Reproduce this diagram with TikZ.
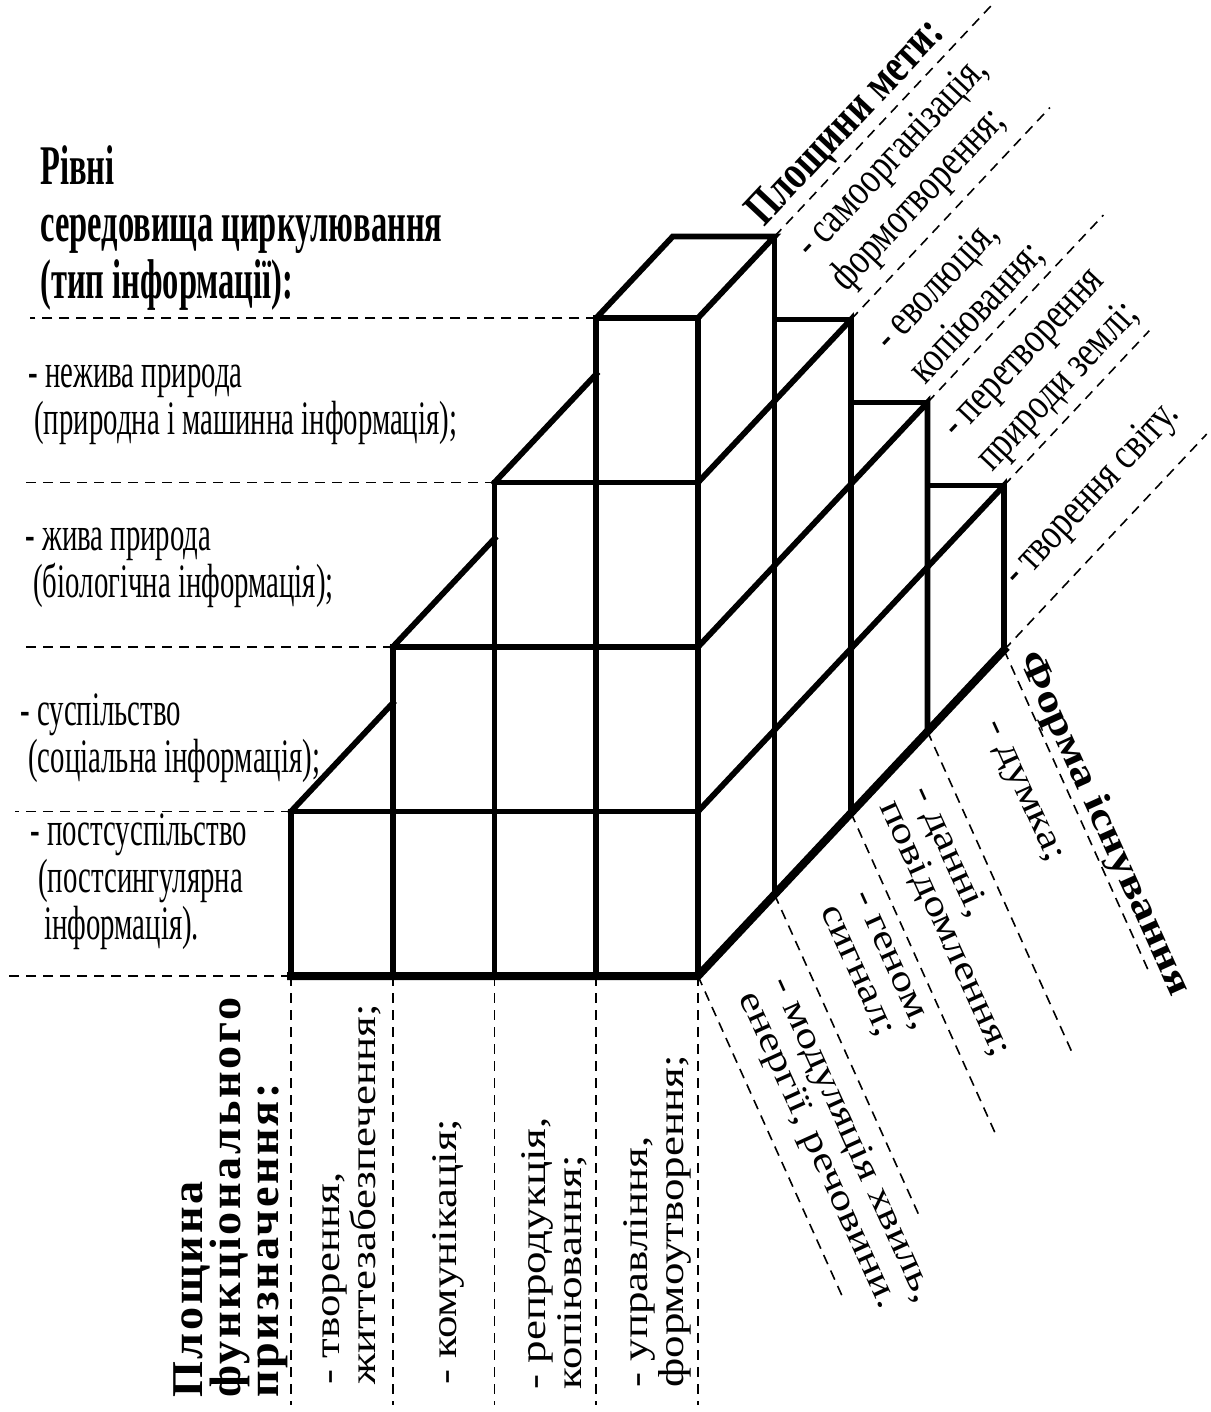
\documentclass[tikz,border=0pt]{standalone}
\usepackage{fontspec}
\setmainfont{Liberation Serif}
\newfontfamily\headfont[FakeStretch=0.58]{Liberation Serif}
\newfontfamily\narrowfont[FakeStretch=0.6]{Liberation Serif}
\newfontfamily\slimfont[FakeStretch=0.77]{Liberation Serif}
\newfontfamily\titlefont[FakeStretch=0.77]{Liberation Serif}
\newfontfamily\widefont[FakeStretch=1.25]{Liberation Serif}
\newfontfamily\spacedfont[FakeStretch=1.05,LetterSpace=6]{Liberation Serif}

\tikzset{
  guide/.style={dash pattern=on 5pt off 3.5pt, line width=0.8pt},
  edge/.style={line width=2.9pt, line cap=rect, line join=miter},
  rim/.style={line width=4pt, line cap=rect, line join=miter},
  txt/.style={anchor=north west, inner sep=0pt, align=left, execute at begin node=\strut},
  head/.style={txt, font=\headfont\bfseries\fontsize{28}{28.5}\selectfont},
  lvl/.style={txt, font=\narrowfont\fontsize{24}{23.5}\selectfont},
  aim/.style={txt, rotate=46.8, font=\slimfont\fontsize{22}{24}\selectfont},
  form/.style={txt, rotate=-65.6, font=\widefont\fontsize{18}{18}\selectfont},
  func/.style={txt, rotate=90, font=\widefont\fontsize{18}{18}\selectfont}
}

\begin{document}
\begin{tikzpicture}[x=0.5pt,y=-0.5pt]
  \lineskiplimit=-100pt
  \useasboundingbox (0,0) rectangle (1210,1412);

  %% the stepped block
  \begin{scope}[shift={(291,976)}, x={(50.875pt,0pt)}, y={(0pt,82.25pt)}, z={(38.25pt,40.75pt)}]
    %% guide lines
    \foreach \h/\s/\l in {0/0/2.81,1/0/2.71,2/1/2.66,3/2/2.61,4/3/2.57}
      \draw[guide] (\s,\h,0) -- (-\l,\h,0);
    \foreach \i in {0,...,4} \draw[guide] (\i,0,0) -- (\i,-2.61,0);
    \foreach \d in {0,...,4} \draw[guide] (4,0,\d) -- ++(1.425,-1.957,0);
    \foreach \h/\d/\e in {4/1/3.85,3/2/4.6,2/3/5.3,1/4/5.9,0/4/6.65}
      \draw[guide] (4,\h,\d) -- (4,\h,\e);
    %% front face
    \draw[rim] (0,0,0) -- (4,0,0) -- (4,0,4);
    \foreach \i in {0,...,3} \draw[edge] (\i,0,0) -- (\i,\i+1,0);
    \foreach \h in {1,...,4} \draw[edge] (\h-1,\h,0) -- (4,\h,0);
    \draw[edge] (4,0,0) -- (4,4,0);
    %% tops of the steps
    \foreach \h in {1,2,3} \draw[edge] (\h-1,\h,0) -- (\h-1,\h,1.33);
    \draw[edge] (3,4,0) -- (3,4,1) -- (4,4,1) -- (4,4,0);
    %% right face
    \foreach \h/\d in {3/2,2/3,1/4} {
      \draw[edge] (4,\h,0) -- (4,\h,\d) -- (4,0,\d);
      \draw[edge] (3.248,\h,\d) -- (4,\h,\d);
    }
    \draw[edge] (4,4,1) -- (4,0,1);
  \end{scope}

  %% levels
  \node[head] (levels) at (40,145) {Рівні\\ середовища циркулювання\\ (тип інформації):};
  \node[lvl] (lvl1) at (28,364) {- нежива природа\\ \hspace*{3pt}(природна і машинна інформація);};
  \node[lvl] (lvl2) at (25,527) {- жива природа\\ \hspace*{4pt}(біологічна інформація);};
  \node[lvl] (lvl3) at (20,693) {- суспільство\\ \hspace*{4pt}(соціальна інформація);};
  \node[lvl] (lvl4) at (30,813) {- постсуспільство\\ \hspace*{4pt}(постсингулярна\\ \hspace*{7pt}інформація).};

  %% aims
  \node[aim, font=\titlefont\bfseries\fontsize{24}{26}\selectfont] (aims) at (737,203) {Площини мети:};
  \node[aim] (aim1) at (790,240) {- самоорганізація,\\ формотворення;};
  \node[aim] (aim2) at (868.4,332.3) {- еволюція,\\ копіювання;};
  \node[aim] (aim3) at (941.7,425.7) {- перетворення\\ природи землі;};
  \node[aim] (aim4) at (993.5,564.8) {- творення світу.};

  %% forms
  \node[form, font=\widefont\bfseries\fontsize{19}{20}\selectfont] (forms) at (1043.9,645.8) {Форма існування};
  \node[form] (form1) at (793.6,972.4) {- модуляція хвиль,\\ енергії, речовини.};
  \node[form] (form2) at (868.9,887.7) {- геном,\\ сигнал;};
  \node[form] (form3) at (934.1,780.8) {- данні,\\ повідомлення;};
  \node[form] (form4) at (1008.7,713.4) {- думка;};

  %% functions
  \node[func, font=\spacedfont\bfseries\fontsize{22}{19}\selectfont] (funcs) at (173,1398) {Площина\\ функціонального\\ призначення:};
  \node[func] (func1) at (322,1385) {- творення,\\ життезабезпечення;};
  \node[func] (func2) at (431,1385) {- комунікація;};
  \node[func] (func3) at (521,1390) {- репродукція,\\ копіювання;};
  \node[func] (func4) at (623,1388) {- управління,\\ формоутворення;};
\end{tikzpicture}
\end{document}
